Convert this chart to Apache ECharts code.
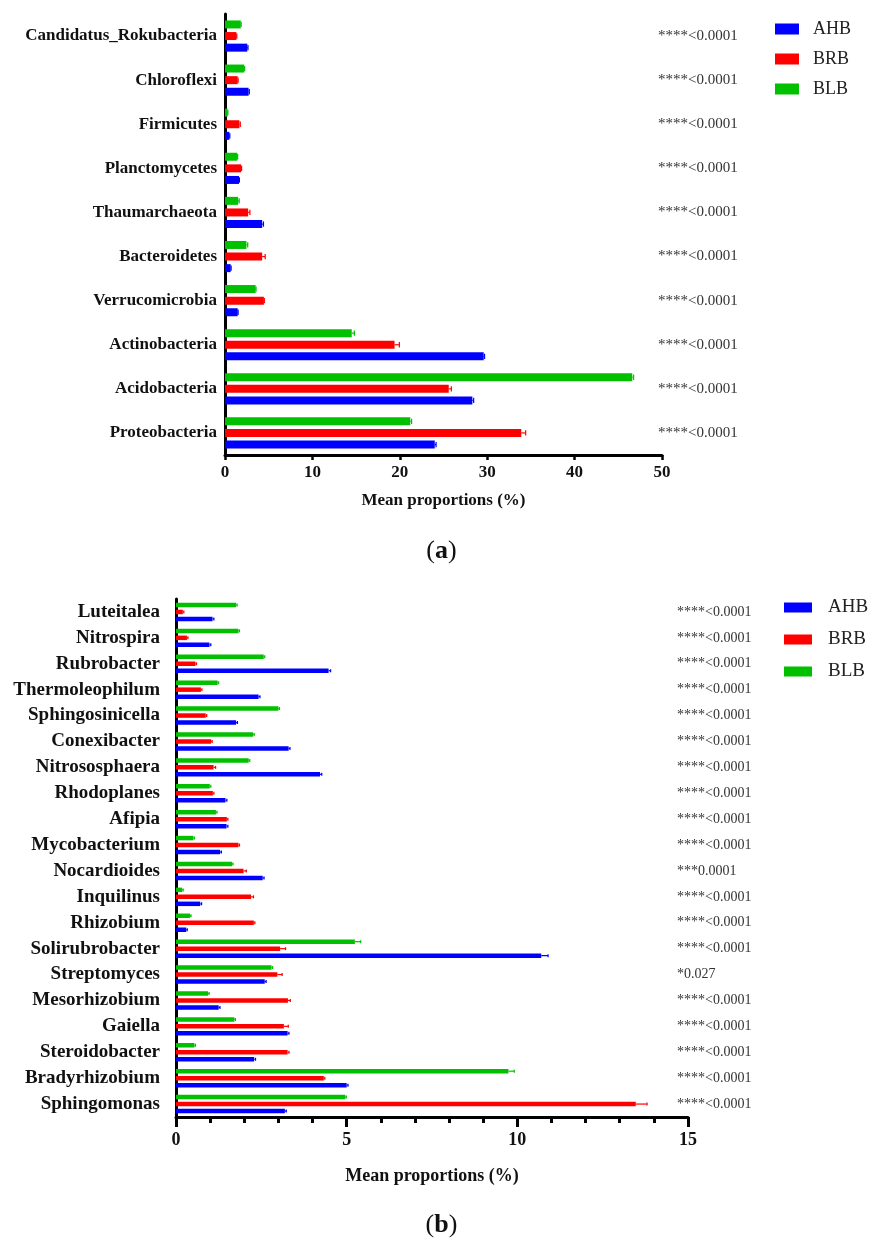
<!DOCTYPE html>
<html>
<head>
<meta charset="utf-8">
<script src="https://cdn.jsdelivr.net/npm/echarts@6/dist/echarts.min.js"></script>
<style>
html, body { margin: 0; padding: 0; background: #fff; }
#chart { width: 883px; height: 1252px; }
</style>
</head>
<body>
<div id="chart"></div>
<script>
// groups and their colours
const groups = ['AHB', 'BRB', 'BLB'];
const groupColors = ['#0000ff', '#ff0000', '#00c000'];

// (a) phyla, top to bottom as in the figure
const phyla = ['Candidatus_Rokubacteria', 'Chloroflexi', 'Firmicutes', 'Planctomycetes', 'Thaumarchaeota',
    'Bacteroidetes', 'Verrucomicrobia', 'Actinobacteria', 'Acidobacteria', 'Proteobacteria'];
const phylaAHB = [2.55, 2.7, 0.5, 1.6, 4.25, 0.65, 1.45, 29.6, 28.3, 24.0];
const phylaBRB = [1.3, 1.45, 1.65, 1.85, 2.65, 4.25, 4.45, 19.4, 25.6, 33.9];
const phylaBLB = [1.8, 2.2, 0.3, 1.4, 1.5, 2.45, 3.5, 14.5, 46.6, 21.2];
const phylaErrAHB = [0.08, 0.08, 0.05, 0.05, 0.15, 0.05, 0.05, 0.1, 0.15, 0.15];
const phylaErrBRB = [0.05, 0.05, 0.1, 0.05, 0.2, 0.35, 0.05, 0.55, 0.3, 0.5];
const phylaErrBLB = [0.05, 0.05, 0.03, 0.05, 0.12, 0.15, 0.05, 0.3, 0.15, 0.15];
const phylaP = ['****<0.0001', '****<0.0001', '****<0.0001', '****<0.0001', '****<0.0001',
    '****<0.0001', '****<0.0001', '****<0.0001', '****<0.0001', '****<0.0001'];
const phylaTicks = [0, 10, 20, 30, 40, 50];

// (b) genera, top to bottom
const genera = ['Luteitalea', 'Nitrospira', 'Rubrobacter', 'Thermoleophilum', 'Sphingosinicella', 'Conexibacter',
    'Nitrososphaera', 'Rhodoplanes', 'Afipia', 'Mycobacterium', 'Nocardioides', 'Inquilinus', 'Rhizobium',
    'Solirubrobacter', 'Streptomyces', 'Mesorhizobium', 'Gaiella', 'Steroidobacter', 'Bradyrhizobium', 'Sphingomonas'];
const generaAHB = [1.07, 0.98, 4.47, 2.42, 1.76, 3.3, 4.22, 1.45, 1.48, 1.29, 2.54, 0.71, 0.3, 10.7, 2.6, 1.25, 3.27, 2.29, 5.0, 3.19];
const generaBRB = [0.2, 0.32, 0.57, 0.73, 0.87, 1.03, 1.1, 1.08, 1.49, 1.83, 1.98, 2.2, 2.28, 3.05, 2.97, 3.28, 3.16, 3.27, 4.33, 13.47];
const generaBLB = [1.76, 1.83, 2.57, 1.22, 3.0, 2.26, 2.13, 0.99, 1.17, 0.51, 1.64, 0.18, 0.41, 5.24, 2.8, 0.94, 1.71, 0.54, 9.74, 4.96];
const generaErrAHB = [0.04, 0.04, 0.06, 0.04, 0.04, 0.04, 0.05, 0.04, 0.04, 0.04, 0.04, 0.04, 0.03, 0.2, 0.04, 0.04, 0.04, 0.04, 0.04, 0.04];
const generaErrBRB = [0.03, 0.03, 0.03, 0.03, 0.03, 0.03, 0.06, 0.03, 0.03, 0.03, 0.08, 0.07, 0.03, 0.16, 0.14, 0.07, 0.13, 0.04, 0.03, 0.33];
const generaErrBLB = [0.03, 0.03, 0.03, 0.03, 0.03, 0.03, 0.03, 0.03, 0.03, 0.03, 0.03, 0.03, 0.03, 0.17, 0.03, 0.03, 0.03, 0.03, 0.17, 0.03];
const generaP = ['****<0.0001', '****<0.0001', '****<0.0001', '****<0.0001', '****<0.0001', '****<0.0001',
    '****<0.0001', '****<0.0001', '****<0.0001', '****<0.0001', '***0.0001', '****<0.0001', '****<0.0001',
    '****<0.0001', '*0.027', '****<0.0001', '****<0.0001', '****<0.0001', '****<0.0001', '****<0.0001'];
const generaTicks = [0, 5, 10, 15];

const serif = 'Liberation Serif';
const ink = '#111';

let chart = echarts.init(document.getElementById('chart'));

// bars drawn top->bottom inside a category: BLB, BRB, AHB
function barSeries (panel, vals, barW, gap) {
    const order = [2, 1, 0];
    return order.map(k => ({
        name: groups[k],
        type: 'bar',
        xAxisIndex: panel,
        yAxisIndex: panel * 2,
        data: vals[k],
        barWidth: barW,
        barGap: gap,
        itemStyle: { color: groupColors[k] },
        silent: true
    }));
}

// small error whiskers, placed like the bars above
function errorSeries (panel, cats, vals, errs, barW, gapPct) {
    const order = [2, 1, 0];
    return {
        type: 'custom',
        xAxisIndex: panel,
        yAxisIndex: panel * 2,
        silent: true,
        z: 3,
        encode: { x: 0, y: 1 },
        data: cats.map((c, i) => [0, i]),
        renderItem: function (params, api) {
            const i = api.value(1);
            const gap = barW * gapPct;
            const total = 3 * barW + 2 * gap;
            const center = api.coord([0, i])[1];
            const children = [];
            order.forEach((k, pos) => {
                const y = center - total / 2 + pos * (barW + gap) + barW / 2;
                const v = vals[k][i];
                const e = errs[k][i];
                const x0 = api.coord([v, i])[0];
                const x1 = api.coord([v + e, i])[0];
                const st = { stroke: groupColors[k], lineWidth: 1.2 };
                children.push({ type: 'line', shape: { x1: x0, y1: y, x2: x1, y2: y }, style: st });
                children.push({ type: 'line', shape: { x1: x1, y1: y - barW / 3, x2: x1, y2: y + barW / 3 }, style: st });
            });
            return { type: 'group', children: children };
        }
    };
}

function catAxis (panel, cats, fontSize, tickLen, tickW, margin) {
    return {
        type: 'category',
        gridIndex: panel,
        data: cats,
        inverse: true,
        axisLine: { lineStyle: { color: '#000', width: 3 } },
        axisTick: { alignWithLabel: true, length: tickLen, lineStyle: { color: '#000', width: tickW } },
        axisLabel: { interval: 0, margin: margin, color: ink, fontFamily: serif, fontWeight: 'bold', fontSize: fontSize },
        splitLine: { show: false }
    };
}

function pAxis (panel, cats, pvals, fontSize, margin) {
    return {
        type: 'category',
        gridIndex: panel,
        position: 'right',
        data: cats,
        inverse: true,
        axisLine: { show: false },
        axisTick: { show: false },
        axisLabel: {
            interval: 0,
            margin: margin,
            align: 'left',
            color: '#333',
            fontFamily: serif,
            fontSize: fontSize,
            formatter: (v, idx) => pvals[idx]
        },
        splitLine: { show: false }
    };
}

function legendAt (left, top, w, h, gap, fontSize, pad) {
    return {
        orient: 'vertical',
        left: left,
        top: top,
        data: groups,
        itemWidth: w,
        itemHeight: h,
        itemGap: gap,
        icon: 'rect',
        selectedMode: false,
        textStyle: { fontFamily: serif, fontSize: fontSize, color: '#222', padding: [0, 0, 0, pad] }
    };
}

function panelTitle (letter, top) {
    return {
        text: '{p|(}{b|' + letter + '}{p|)}',
        left: 'center',
        top: top,
        textStyle: { rich: {
            p: { fontFamily: serif, fontSize: 26, color: ink, fontWeight: 'normal' },
            b: { fontFamily: serif, fontSize: 26, color: ink, fontWeight: 'bold' }
        } }
    };
}

const option = {
    backgroundColor: '#fff',
    animation: false,
    title: [panelTitle('a', 533), panelTitle('b', 1207)],
    legend: [
        legendAt(770, 15, 24, 11, 12, 18, 9),
        legendAt(779, 593, 28, 10, 13, 19, 11)
    ],
    grid: [
        { left: 225, top: 14, width: 437, height: 441, outerBoundsMode: 'none' },
        { left: 176, top: 599, width: 512, height: 518, outerBoundsMode: 'none' }
    ],
    xAxis: [
        {
            type: 'value',
            gridIndex: 0,
            min: phylaTicks[0],
            max: phylaTicks[phylaTicks.length - 1],
            interval: phylaTicks[1] - phylaTicks[0],
            name: 'Mean proportions (%)',
            nameLocation: 'middle',
            nameGap: 37,
            nameTextStyle: { fontFamily: serif, fontWeight: 'bold', fontSize: 17, color: ink },
            axisLine: { show: true, lineStyle: { color: '#000', width: 3 } },
            axisTick: { show: true, length: 5, lineStyle: { color: '#000', width: 2.5 } },
            axisLabel: { margin: 9, color: ink, fontFamily: serif, fontWeight: 'bold', fontSize: 17 },
            splitLine: { show: false }
        },
        {
            type: 'value',
            gridIndex: 1,
            min: generaTicks[0],
            max: generaTicks[generaTicks.length - 1],
            interval: generaTicks[1] - generaTicks[0],
            name: 'Mean proportions (%)',
            nameLocation: 'middle',
            nameGap: 50,
            nameTextStyle: { fontFamily: serif, fontWeight: 'bold', fontSize: 18, color: ink },
            axisLine: { show: true, lineStyle: { color: '#000', width: 3 } },
            axisTick: { show: true, length: 10, lineStyle: { color: '#000', width: 3 } },
            minorTick: { show: true, splitNumber: 5, length: 6, lineStyle: { color: '#000', width: 3 } },
            axisLabel: { margin: 14, color: ink, fontFamily: serif, fontWeight: 'bold', fontSize: 18 },
            splitLine: { show: false }
        }
    ],
    yAxis: [
        catAxis(0, phyla, 17, 4, 3, 8),
        pAxis(0, phyla, phylaP, 15, -4),
        catAxis(1, genera, 19, 10, 4, 16),
        pAxis(1, genera, generaP, 14, -11)
    ],
    series: [].concat(
        barSeries(0, [phylaAHB, phylaBRB, phylaBLB], 8, '45%'),
        [errorSeries(0, phyla, [phylaAHB, phylaBRB, phylaBLB], [phylaErrAHB, phylaErrBRB, phylaErrBLB], 8, 0.45)],
        barSeries(1, [generaAHB, generaBRB, generaBLB], 4.5, '55%'),
        [errorSeries(1, genera, [generaAHB, generaBRB, generaBLB], [generaErrAHB, generaErrBRB, generaErrBLB], 4.5, 0.55)]
    )
};

chart.setOption(option);

window.addEventListener('resize', function () {
    chart.resize();
});
</script>
</body>
</html>
